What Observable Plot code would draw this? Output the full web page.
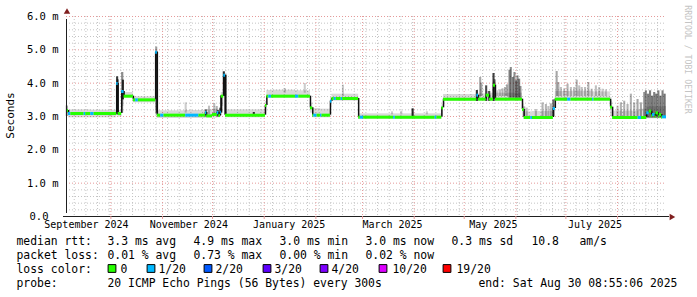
<!DOCTYPE html>
<html><head><meta charset="utf-8">
<script src="https://cdn.jsdelivr.net/npm/d3@7"></script>
<script src="https://cdn.jsdelivr.net/npm/@observablehq/plot@0.6"></script>
<style>
html,body{margin:0;padding:0;background:#fff;}
#chart{width:697px;height:297px;overflow:hidden;}
svg{display:block;}
</style></head><body><div id="chart"></div>
<script>
// ---------- data ----------
const startTime = "2024-09-04T08:55:06";
const endTime = "2025-08-30T08:55:06";

const segStart = ["2024-09-04T08:55","2024-09-05T14:00","2024-09-06T23:00","2024-09-14T23:00","2024-09-15T22:00","2024-09-18T22:00","2024-09-20T23:00","2024-10-04T12:00","2024-10-05T08:00","2024-10-07T12:00","2024-10-08T22:00","2024-10-14T12:00","2024-10-15T21:00","2024-10-17T12:00","2024-10-27T21:00","2024-10-28T21:00","2024-10-30T21:00","2024-11-01T21:00","2024-11-14T21:00","2024-11-22T21:00","2024-11-26T19:00","2024-11-27T12:00","2024-12-01T00:00","2024-12-03T20:00","2024-12-04T18:00","2024-12-05T18:00","2024-12-06T06:00","2024-12-07T18:00","2024-12-08T18:00","2025-01-01T18:00","2025-01-02T14:00","2025-01-03T18:00","2025-01-05T09:00","2025-01-19T18:00","2025-01-21T18:00","2025-01-28T18:00","2025-01-30T03:00","2025-01-30T18:00","2025-02-01T18:00","2025-02-03T18:00","2025-02-04T16:00","2025-02-09T18:00","2025-02-10T16:00","2025-02-12T01:00","2025-02-13T06:00","2025-02-16T06:00","2025-02-17T01:00","2025-02-26T16:00","2025-02-27T16:00","2025-03-01T16:00","2025-03-19T16:00","2025-03-20T16:00","2025-04-13T14:00","2025-04-14T14:00","2025-04-17T14:00","2025-04-18T14:00","2025-05-08T14:00","2025-05-09T14:00","2025-05-14T04:00","2025-05-16T04:00","2025-05-18T14:00","2025-05-19T18:00","2025-06-04T23:00","2025-06-05T23:00","2025-06-09T23:00","2025-06-10T23:00","2025-06-23T11:00","2025-06-24T16:00","2025-07-02T01:00","2025-07-04T01:00","2025-07-17T01:00","2025-07-17T20:00","2025-07-27T20:00","2025-07-29T01:00","2025-08-13T09:00","2025-08-15T09:00","2025-08-18T12:00","2025-08-20T00:00","2025-08-21T12:00","2025-08-22T00:00","2025-08-23T12:00","2025-08-24T00:00","2025-08-25T12:00","2025-08-26T00:00","2025-08-27T12:00","2025-08-28T00:00"];
const segMedian = [3.18,3.09,3.09,3.09,3.09,3.09,3.09,3.99,3.09,3.75,3.61,3.50,3.50,3.50,4.93,3.04,3.04,3.04,3.04,3.04,3.12,3.02,3.06,3.12,3.03,3.13,3.61,4.24,3.04,3.33,3.61,3.61,3.61,3.61,3.61,3.26,3.04,3.04,3.04,3.04,3.04,3.46,3.54,3.54,3.54,3.54,3.54,2.98,2.98,2.98,2.98,2.98,2.98,2.98,3.26,3.52,3.64,3.52,3.64,3.52,3.94,3.52,3.21,2.97,2.97,2.97,3.24,3.52,3.52,3.52,3.52,3.52,3.28,2.97,2.97,2.97,3.11,3.16,3.02,3.06,3.00,3.11,3.00,3.06,2.98,2.99];
const segLoss = [0,1,0,1,0,1,0,1,0,1,0,0,1,0,1,0,1,0,1,0,1,0,0,1,0,1,0,1,0,0,0,1,0,1,0,0,0,1,0,1,0,1,0,1,0,1,0,0,1,0,1,0,1,0,0,0,1,0,0,0,0,0,0,0,1,0,1,0,1,0,1,0,0,0,1,0,1,0,0,1,0,0,0,0,0,1];
const segLo = [3.00,2.96,2.96,2.96,2.96,2.96,2.96,3.10,2.98,3.30,3.55,3.41,3.41,3.41,3.20,2.94,2.94,2.94,2.94,2.94,2.95,2.95,2.95,2.96,2.96,2.98,3.30,3.60,2.96,3.10,3.55,3.55,3.55,3.55,3.55,3.10,2.96,2.96,2.96,2.96,2.96,3.30,3.46,3.46,3.46,3.46,3.46,2.92,2.92,2.92,2.92,2.92,2.92,2.92,3.00,3.46,3.46,3.46,3.46,3.46,3.46,3.46,2.98,2.93,2.93,2.93,2.98,3.46,3.46,3.46,3.46,3.46,3.00,2.93,2.93,2.93,2.93,2.93,2.93,2.93,2.93,2.93,2.93,2.93,2.93,2.93];
const segHi = [3.30,3.20,3.20,3.20,3.20,3.19,3.19,4.19,3.18,4.32,3.72,3.59,3.59,3.59,5.08,3.17,3.17,3.17,3.18,3.18,3.20,3.20,3.22,3.22,3.20,3.22,3.72,4.34,3.20,3.45,3.78,3.78,3.79,3.78,3.77,3.40,3.22,3.24,3.24,3.22,3.22,3.55,3.67,3.67,3.67,3.67,3.67,3.08,3.08,3.08,3.08,3.08,3.08,3.08,3.35,3.66,3.75,3.68,3.75,3.70,4.05,3.70,3.40,3.14,3.14,3.15,3.35,3.75,3.75,3.76,3.74,3.74,3.45,3.16,3.20,3.22,3.28,3.30,3.28,3.30,3.28,3.30,3.28,3.30,3.28,3.30];

const spikeTime = ["2024-09-04T12:00","2024-10-04T18:00","2024-10-05T02:00","2024-10-07T18:00","2024-10-08T06:00","2024-10-28T06:00","2024-10-28T14:00","2024-11-14T21:00","2024-11-27T00:00","2024-11-28T21:00","2024-12-02T00:00","2024-12-03T12:00","2024-12-04T06:00","2024-12-05T12:00","2024-12-06T06:00","2024-12-07T18:00","2024-12-08T18:00","2024-12-25T18:00","2025-01-13T08:00","2025-01-25T08:00","2025-02-17T06:00","2025-03-18T16:00","2025-03-24T06:00","2025-03-31T01:00","2025-04-08T14:00","2025-05-08T14:00","2025-05-10T14:00","2025-05-11T08:00","2025-05-14T04:00","2025-05-16T00:00","2025-05-18T14:00","2025-05-19T06:00","2025-05-21T00:00","2025-05-22T12:00","2025-05-24T00:00","2025-05-25T12:00","2025-05-26T18:00","2025-05-28T04:00","2025-05-28T23:00","2025-05-30T04:00","2025-05-31T04:00","2025-06-01T04:00","2025-06-01T23:00","2025-06-02T23:00","2025-06-03T18:00","2025-06-06T00:00","2025-06-07T12:00","2025-06-13T00:00","2025-06-17T00:00","2025-06-19T00:00","2025-06-20T12:00","2025-06-22T00:00","2025-06-23T12:00","2025-06-25T11:00","2025-06-26T12:00","2025-06-28T00:00","2025-06-30T00:00","2025-07-02T00:00","2025-07-04T00:00","2025-07-06T00:00","2025-07-07T12:00","2025-07-09T00:00","2025-07-10T12:00","2025-07-12T12:00","2025-07-14T12:00","2025-07-16T12:00","2025-07-19T00:00","2025-07-21T00:00","2025-07-23T00:00","2025-07-25T00:00","2025-08-01T00:00","2025-08-03T00:00","2025-08-05T00:00","2025-08-07T00:00","2025-08-09T00:00","2025-08-11T00:00","2025-08-13T00:00","2025-08-15T00:00","2025-08-17T00:00","2025-08-18T00:00","2025-08-19T06:00","2025-08-20T12:00","2025-08-21T18:00","2025-08-23T00:00","2025-08-24T06:00","2025-08-25T12:00","2025-08-26T18:00","2025-08-28T00:00","2025-08-29T06:00"];
const spikeLow = [3.00,3.05,3.05,3.10,3.50,3.05,3.10,3.10,2.98,3.05,3.05,3.00,2.98,3.00,3.10,3.60,3.04,3.00,3.70,3.70,3.60,3.05,3.05,2.96,3.05,3.45,3.60,3.60,3.45,3.45,3.45,3.50,3.60,3.60,3.60,3.60,3.60,3.55,3.55,3.55,3.55,3.55,3.55,3.55,3.50,3.00,3.00,3.00,3.00,3.00,3.00,3.00,3.00,3.60,3.60,3.60,3.60,3.60,3.60,3.60,3.60,3.60,3.60,3.60,3.60,3.60,3.60,3.60,3.60,3.60,3.00,3.00,3.00,3.00,3.00,3.00,3.00,3.00,2.95,2.95,2.95,2.95,2.95,2.95,2.95,2.95,2.95,2.95,2.95];
const spikeHigh = [3.32,4.19,4.10,4.32,4.09,5.08,4.93,3.41,3.20,3.31,3.38,3.30,3.18,3.25,3.62,4.34,4.24,3.12,3.84,3.99,3.94,3.14,3.16,3.23,3.14,3.78,4.17,4.00,3.92,3.75,4.29,4.10,3.77,3.80,3.83,3.87,3.95,4.39,4.47,4.17,4.32,4.07,4.22,4.12,3.90,3.29,3.25,3.21,3.41,3.36,3.30,3.38,3.50,4.35,4.02,3.87,3.82,3.97,3.87,3.87,4.09,3.92,3.87,3.87,4.02,3.82,3.92,3.87,3.82,3.80,3.31,3.41,3.46,3.36,3.67,3.41,3.51,3.41,3.72,3.77,3.67,3.77,3.61,3.72,3.67,3.77,3.61,3.77,3.67];
const spikeShade = [0.3,0.75,0.6,0.35,0.75,0.3,0.7,0.2,0.6,0.25,0.25,0.3,0.6,0.5,0.8,0.8,0.8,0.8,0.2,0.2,0.2,0.2,0.2,0.85,0.2,0.8,0.35,0.3,0.7,0.7,0.75,0.5,0.2,0.25,0.3,0.3,0.35,0.45,0.45,0.5,0.45,0.5,0.45,0.5,0.4,0.3,0.25,0.25,0.3,0.3,0.25,0.3,0.6,0.35,0.3,0.25,0.25,0.3,0.25,0.25,0.3,0.25,0.25,0.25,0.3,0.25,0.25,0.25,0.2,0.2,0.25,0.3,0.3,0.3,0.3,0.3,0.35,0.35,0.4,0.45,0.5,0.5,0.55,0.5,0.55,0.5,0.55,0.5,0.55];

const lossLabels = ["0","1/20","2/20","3/20","4/20","10/20","19/20"];
const lossColors = ["#26ff00","#00b8ff","#0059ff","#5e00ff","#7e00ff","#dd00ff","#ff0000"];

const yTicks = [1,2,3,4,5,6];
const yTickLabels = ["1.0 m","2.0 m","3.0 m","4.0 m","5.0 m","6.0 m"];
const yZeroLabel = "0.0";
const monthLabels = ["September 2024","November 2024","January 2025","March 2025","May 2025","July 2025"];
const monthLabelTimes = ["2024-09-16T08:00","2024-11-16T18:00","2025-01-16T00:00","2025-03-19T00:00","2025-05-18T12:00","2025-07-18T12:00"];

const rttStats = ["3.3 ms avg","4.9 ms max","3.0 ms min","3.0 ms now","0.3 ms sd","10.8","am/s"];
const lossStats = ["0.01 % avg","0.73 % max","0.00 % min","0.02 % now"];
const probeText = "20 ICMP Echo Pings (56 Bytes) every 300s";
const endText = "end: Sat Aug 30 08:55:06 2025";
const yTitle = "Seconds";
const watermark = "RRDTOOL / TOBI OETIKER";

// ---------- layout ----------
const W = 697, H = 297, ML = 66, MR = 31, MT = 16, MB = 81;
const FONT = "DejaVu Sans Mono";
const GRID = "#c4c4c4";
const MGRID = "#e59a9a";
const AXIS = "#1f1f1f";
const ARROW = "#801f1f";

const T = s => new Date(s + "Z");
const t0 = T(startTime), t1 = T(endTime);

const segs = segStart.map((s, i) => ({
  x1: T(s), x2: i + 1 < segStart.length ? T(segStart[i + 1]) : t1,
  m: segMedian[i], loss: segLoss[i], lo: segLo[i], hi: segHi[i]
}));
const joins = segs.slice(1).map((s, i) => ({x: s.x1, y1: segs[i].m, y2: s.m}));
const spikes = spikeTime.map((s, i) => ({x: T(s), lo: spikeLow[i], hi: spikeHigh[i], o: spikeShade[i]}));

const minorY = d3.range(0, 31).filter(i => i % 5).map(i => i / 5);
const weeks = d3.utcMonday.range(t0, t1);
const months = d3.utcMonth.range(t0, t1);

// absolute-positioned text helper (page pixel coordinates)
const at = (str, px, py, o = {}) => Plot.text([str], {
  frameAnchor: "top-left", dx: px - ML, dy: py - MT, textAnchor: "start", lineAnchor: "middle",
  fontFamily: FONT, fontSize: 11.4, fill: "#000", ...o
});

const legendLines = [241, 255, 269, 283];
const statX = [107, 193, 279, 365, 451, 531, 579];
const swatchX = [111.5, 150.5, 207.5, 266.5, 323.5, 382.5, 446.5];
const swatchLabelX = [120, 158, 215, 274, 331, 392, 456];

const marks = [
  // grid
  Plot.ruleY(minorY, {stroke: GRID, strokeDasharray: "1,2"}),
  Plot.ruleX(weeks, {stroke: GRID, strokeDasharray: "1,2"}),
  Plot.ruleY(yTicks, {stroke: MGRID, strokeDasharray: "1,2"}),
  Plot.ruleX(months, {stroke: MGRID, strokeDasharray: "1,2"}),
  // smoke
  Plot.rect(segs, {x1: "x1", x2: "x2", y1: "lo", y2: "hi", fill: "#000", fillOpacity: 0.15}),
  Plot.ruleX(spikes, {x: "x", y1: "lo", y2: "hi", stroke: "#000", strokeOpacity: "o", strokeWidth: 2.1}),
  // median
  Plot.ruleX(joins, {x: "x", y1: "y1", y2: "y2", stroke: "#111", strokeWidth: 1.5}),
  Plot.ruleY(segs, {x1: "x1", x2: "x2", y: "m", stroke: d => lossColors[d.loss], strokeWidth: 3}),
  // axes
  Plot.ruleY([0], {stroke: AXIS, insetLeft: -3, insetRight: -3}),
  Plot.ruleX([t0], {y1: 0, y2: 6, stroke: AXIS, insetTop: -3, insetBottom: -3}),
  Plot.ruleX(months, {y1: 0, y2: 0, stroke: MGRID, insetBottom: -3}),
  Plot.dot([0], {frameAnchor: "top-left", dx: 0.5, dy: -4.5, symbol: "triangle", r: 2.4, fill: ARROW, stroke: "none"}),
  Plot.dot([0], {frameAnchor: "bottom-right", dx: 5, dy: 0.5, symbol: "triangle", rotate: 90, r: 2.4, fill: ARROW, stroke: "none"}),
  // y labels
  Plot.text(yTicks, {y: d => d, text: (d, i) => yTickLabels[i], frameAnchor: "left", dx: -8, textAnchor: "end", fontFamily: FONT, fontSize: 10.5, fill: "#000"}),
  Plot.text([0], {y: d => d, text: () => yZeroLabel, frameAnchor: "left", dx: -18, textAnchor: "end", fontFamily: FONT, fontSize: 10.5, fill: "#000"}),
  // x labels
  Plot.text(monthLabelTimes, {x: d => T(d), text: (d, i) => monthLabels[i], frameAnchor: "bottom", dy: 8.5, lineAnchor: "middle", fontFamily: FONT, fontSize: 10, fill: "#000"}),
  // titles
  at(yTitle, 10, 115, {rotate: -90, textAnchor: "middle", fontSize: 11}),
  at(watermark, 687, 59, {rotate: 90, textAnchor: "middle", fontSize: 8.2, fill: "#c4c4c4"}),
  // legend
  at("median rtt:", 16, legendLines[0]),
  ...rttStats.map((s, i) => at(s, statX[i], legendLines[0])),
  at("packet loss:", 16, legendLines[1]),
  ...lossStats.map((s, i) => at(s, statX[i], legendLines[1])),
  at("loss color:", 16, legendLines[2]),
  ...lossColors.map((c, i) => Plot.dot([0], {frameAnchor: "top-left", dx: swatchX[i] - ML, dy: legendLines[2] - 1 - MT, symbol: "square", r: 4.4, fill: c, stroke: "#000", strokeWidth: 1})),
  ...lossLabels.map((s, i) => at(s, swatchLabelX[i], legendLines[2])),
  at("probe:", 16, legendLines[3]),
  at(probeText, 107, legendLines[3]),
  at(endText, 478, legendLines[3])
];

const chart = Plot.plot({
  width: W, height: H,
  marginLeft: ML, marginRight: MR, marginTop: MT, marginBottom: MB,
  style: {background: "#fff", overflow: "visible", fontFamily: FONT},
  x: {type: "utc", domain: [t0, t1], axis: null},
  y: {domain: [0, 6], axis: null},
  marks
});
document.getElementById("chart").appendChild(chart);
</script></body></html>
